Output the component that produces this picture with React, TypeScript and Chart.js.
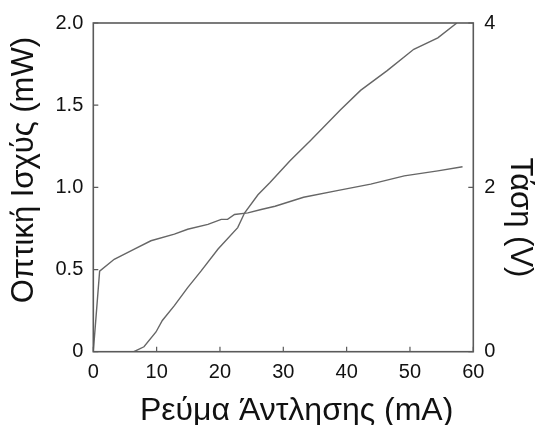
import React, { useEffect, useRef } from "react";
import { Chart, registerables } from "chart.js";

Chart.register(...registerables);

const powerCurrent = [0, 6.4, 8.0, 9.9, 10.9, 12.8, 14.9, 17.0, 19.7, 22.8, 23.9, 26.0, 27.9, 31.1, 34.3, 39.0, 42.2, 46.4, 50.6, 54.4, 57.4];
const powerValues = [0, 0, 0.03, 0.12, 0.19, 0.28, 0.39, 0.49, 0.625, 0.755, 0.845, 0.955, 1.03, 1.163, 1.285, 1.47, 1.59, 1.71, 1.84, 1.91, 2.0];

const voltCurrent = [0, 1.0, 3.3, 6.4, 9.1, 12.8, 14.9, 18.1, 20.2, 21.2, 22.3, 24.4, 26.5, 28.7, 33.2, 38.5, 43.8, 49.1, 54.4, 58.3];
const voltValues = [0, 0.98, 1.125, 1.245, 1.35, 1.43, 1.49, 1.55, 1.61, 1.61, 1.67, 1.69, 1.73, 1.77, 1.88, 1.96, 2.04, 2.14, 2.2, 2.25];

const xTicks = [0, 10, 20, 30, 40, 50, 60];
const leftTicks = [0, 0.5, 1.0, 1.5, 2.0];
const rightTicks = [0, 2, 4];

const xTitle = "Ρεύμα Άντλησης (mA)";
const leftTitle = "Οπτική Ισχύς (mW)";
const rightTitle = "Τάση (V)";

const FONT = "'Liberation Sans', Arial, sans-serif";
const AXIS_COLOR = "#5a5a5a";
const LINE_COLOR = "#666666";
const TEXT_COLOR = "#111111";
const NBSP = "\u00A0";

const inwardTicks = {
  id: "inwardTicks",
  afterDraw(chart: any) {
    const { ctx, chartArea } = chart;
    const x = chart.scales.x;
    const yl = chart.scales.y;
    const yr = chart.scales.y1;
    const len = 5;
    ctx.save();
    ctx.strokeStyle = AXIS_COLOR;
    ctx.lineWidth = 1.2;
    ctx.beginPath();
    xTicks.forEach((v) => {
      const px = x.getPixelForValue(v);
      ctx.moveTo(px, chartArea.bottom);
      ctx.lineTo(px, chartArea.bottom - len);
    });
    leftTicks.forEach((v) => {
      const py = yl.getPixelForValue(v);
      ctx.moveTo(chartArea.left, py);
      ctx.lineTo(chartArea.left + len, py);
    });
    rightTicks.forEach((v) => {
      const py = yr.getPixelForValue(v);
      ctx.moveTo(chartArea.right, py);
      ctx.lineTo(chartArea.right - len, py);
    });
    ctx.stroke();
    ctx.lineWidth = 1.6;
    ctx.strokeRect(chartArea.left, chartArea.top, chartArea.right - chartArea.left, chartArea.bottom - chartArea.top);
    ctx.restore();
  },
};

export default function App() {
  const ref = useRef<HTMLCanvasElement>(null);
  useEffect(() => {
    if (!ref.current) return;
    const chart = new Chart(ref.current, {
      type: "scatter",
      data: {
        datasets: [
          {
            label: "Οπτική Ισχύς",
            data: powerCurrent.map((c, i) => ({ x: c, y: powerValues[i] })),
            showLine: true,
            borderColor: LINE_COLOR,
            borderWidth: 1.4,
            pointRadius: 0,
            yAxisID: "y",
          },
          {
            label: "Τάση",
            data: voltCurrent.map((c, i) => ({ x: c, y: voltValues[i] })),
            showLine: true,
            borderColor: LINE_COLOR,
            borderWidth: 1.4,
            pointRadius: 0,
            yAxisID: "y1",
          },
        ],
      },
      plugins: [inwardTicks],
      options: {
        animation: false,
        responsive: false,
        maintainAspectRatio: false,
        layout: { padding: { top: 22.7, left: 0, right: 0, bottom: 0 } },
        plugins: { legend: { display: false }, tooltip: { enabled: false } },
        scales: {
          x: {
            type: "linear",
            min: 0,
            max: 60,
            afterBuildTicks: (s: any) => {
              s.ticks = xTicks.map((v) => ({ value: v }));
            },
            afterFit: (s: any) => {
              s.height = 73.3;
            },
            grid: { display: false, drawTicks: false },
            border: { display: false },
            ticks: {
              padding: 9,
              color: TEXT_COLOR,
              font: { family: FONT, size: 20 },
              maxRotation: 0,
            },
            title: {
              display: true,
              text: NBSP.repeat(3) + xTitle,
              color: TEXT_COLOR,
              font: { family: FONT, size: 32 },
              padding: { top: 0, bottom: -5 },
            },
          },
          y: {
            type: "linear",
            position: "left",
            min: 0,
            max: 2.0,
            afterBuildTicks: (s: any) => {
              s.ticks = leftTicks.map((v) => ({ value: v }));
            },
            afterFit: (s: any) => {
              s.width = 93.3;
            },
            grid: { display: false, drawTicks: false },
            border: { display: false },
            ticks: {
              padding: 10,
              color: TEXT_COLOR,
              font: { family: FONT, size: 20 },
              callback: (v: any) => (v === 0 ? "0" : Number(v).toFixed(1)),
            },
            title: {
              display: true,
              text: NBSP.repeat(4) + leftTitle,
              color: TEXT_COLOR,
              font: { family: FONT, size: 31 },
              padding: { top: 6, bottom: 0 },
            },
          },
          y1: {
            type: "linear",
            position: "right",
            min: 0,
            max: 4,
            afterBuildTicks: (s: any) => {
              s.ticks = rightTicks.map((v) => ({ value: v }));
            },
            afterFit: (s: any) => {
              s.width = 63.7;
            },
            grid: { display: false, drawTicks: false, drawOnChartArea: false },
            border: { display: false },
            ticks: {
              padding: 11,
              color: TEXT_COLOR,
              font: { family: FONT, size: 20 },
            },
            title: {
              display: true,
              text: NBSP.repeat(7) + rightTitle,
              color: TEXT_COLOR,
              font: { family: FONT, size: 31 },
              padding: { top: -1.5, bottom: 0 },
            },
          },
        },
      },
    });
    return () => chart.destroy();
  }, []);
  return (
    <div style={{ position: "fixed", left: 0, top: 0, width: 537, height: 425, background: "#fff" }}>
      <canvas ref={ref} width={537} height={425} style={{ display: "block" }} />
    </div>
  );
}
